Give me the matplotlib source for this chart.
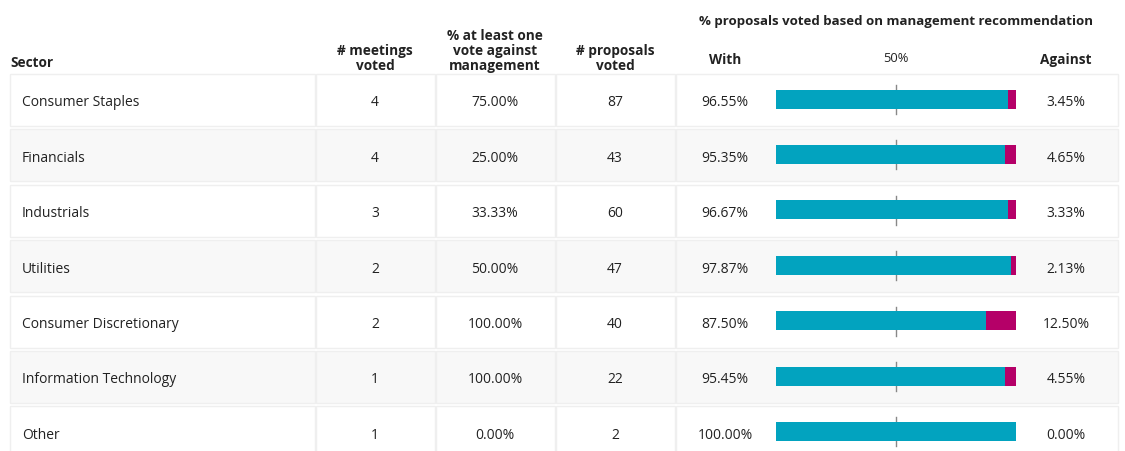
import matplotlib.pyplot as plt
from matplotlib.patches import Rectangle

sectors = ["Consumer Staples", "Financials", "Industrials", "Utilities",
           "Consumer Discretionary", "Information Technology", "Other"]
meetings = [4, 4, 3, 2, 2, 1, 1]
pct_against_mgmt = [75.00, 25.00, 33.33, 50.00, 100.00, 100.00, 0.00]
proposals = [87, 43, 60, 47, 40, 22, 2]
pct_with = [96.55, 95.35, 96.67, 97.87, 87.50, 95.45, 100.00]
pct_against = [3.45, 4.65, 3.33, 2.13, 12.50, 4.55, 0.00]

TEAL = "#02a3bf"
MAGENTA = "#b50068"
TXT = "#222222"
EDGE = "#efefef"

plt.rcParams['font.family'] = ['Open Sans', 'DejaVu Sans']

W, H = 1125, 452
fig = plt.figure(figsize=(W / 100, H / 100), dpi=100)
ax = fig.add_axes([0, 0, 1, 1])
ax.set_xlim(0, W)
ax.set_ylim(H, 0)
ax.axis('off')

# bar axes: 0..100 % mapped onto the bar column (pixels 776..1016)
bx0, bx1 = 776, 1016
scale = (bx1 - bx0) / 100
bax = fig.add_axes([0, 0, 1, 1])
bax.set_xlim(-bx0 / scale, (W - bx0) / scale)
bax.set_ylim(H, 0)
bax.axis('off')
bax.patch.set_alpha(0)

# headers
fs = 10
hs = 9.8
ax.text(10, 70, "Sector", fontsize=hs, fontweight='bold', color=TXT, va='bottom', ha='left')
ax.text(375, 73, "# meetings\nvoted", fontsize=hs, fontweight='bold', color=TXT,
        va='bottom', ha='center', linespacing=1.1)
ax.text(495, 73, "% at least one\nvote against\nmanagement", fontsize=hs, fontweight='bold',
        color=TXT, va='bottom', ha='center', linespacing=1.1)
ax.text(615, 73, "# proposals\nvoted", fontsize=hs, fontweight='bold', color=TXT,
        va='bottom', ha='center', linespacing=1.1)
ax.text(725, 60, "With", fontsize=hs, fontweight='bold', color=TXT, va='center', ha='center')
ax.text(1066, 60, "Against", fontsize=hs, fontweight='bold', color=TXT, va='center', ha='center')
ax.text(896, 21, "% proposals voted based on management recommendation", fontsize=9.5,
        fontweight='bold', color=TXT, va='center', ha='center')
bax.text(50, 59, "50%", fontsize=9.3, color=TXT, va='center', ha='center')

cells = [(10, 315), (316, 435), (436, 555), (556, 675), (676, 1118)]
row_h = 52
step = 55.4
for i, name in enumerate(sectors):
    top = 75 + i * step
    c = top + row_h / 2
    tc = c + 2
    fill = "#f8f8f8" if i % 2 else "white"
    for x0, x1 in cells:
        ax.add_patch(Rectangle((x0, top), x1 - x0, row_h, facecolor=fill,
                               edgecolor=EDGE, linewidth=1.0, zorder=1))
    ax.text(22, tc, name, fontsize=fs, color=TXT, va='center', ha='left', zorder=3)
    ax.text(375, tc, str(meetings[i]), fontsize=fs, color=TXT, va='center', ha='center', zorder=3)
    ax.text(495, tc, f"{pct_against_mgmt[i]:.2f}%", fontsize=fs, color=TXT,
            va='center', ha='center', zorder=3)
    ax.text(615, tc, str(proposals[i]), fontsize=fs, color=TXT, va='center', ha='center', zorder=3)
    ax.text(725, tc, f"{pct_with[i]:.2f}%", fontsize=fs, color=TXT, va='center', ha='center', zorder=3)
    ax.text(1066, tc, f"{pct_against[i]:.2f}%", fontsize=fs, color=TXT,
            va='center', ha='center', zorder=3)

    bax.plot([50, 50], [c - 15, c + 14], color="#888888", linewidth=1, zorder=2)
    bax.barh(c - 1, pct_with[i], height=19, color=TEAL, zorder=3)
    bax.barh(c - 1, pct_against[i], left=pct_with[i], height=19, color=MAGENTA, zorder=3)

fig.savefig("out.png", dpi=100)
